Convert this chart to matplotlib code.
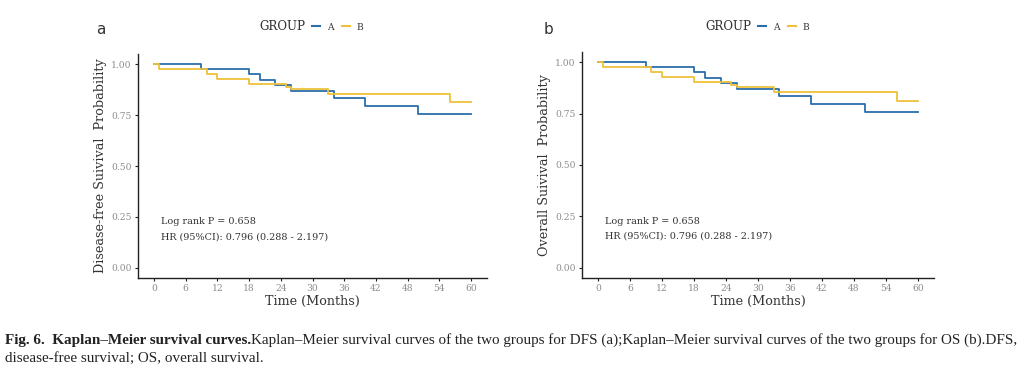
import matplotlib
matplotlib.use("Agg")
import matplotlib.pyplot as plt
from matplotlib.lines import Line2D
from matplotlib.text import Annotation

# ---- data ----
time_ticks = [0, 6, 12, 18, 24, 30, 36, 42, 48, 54, 60]
surv_ticks = [0.00, 0.25, 0.50, 0.75, 1.00]
surv_ticklabels = ["0.00", "0.25", "0.50", "0.75", "1.00"]

dfs_a_time = [0, 9, 18, 20, 23, 26, 34, 40, 50, 60]
dfs_a_surv = [1.0, 0.975, 0.951, 0.923, 0.897, 0.868, 0.835, 0.796, 0.757, 0.757]
dfs_b_time = [0, 1, 10, 12, 18, 25, 26, 33, 56, 60]
dfs_b_surv = [1.0, 0.976, 0.951, 0.927, 0.902, 0.889, 0.878, 0.854, 0.812, 0.812]

os_a_time = [0, 9, 18, 20, 23, 26, 34, 40, 50, 60]
os_a_surv = [1.0, 0.975, 0.951, 0.923, 0.897, 0.868, 0.835, 0.796, 0.757, 0.757]
os_b_time = [0, 1, 10, 12, 18, 25, 26, 33, 56, 60]
os_b_surv = [1.0, 0.976, 0.951, 0.927, 0.902, 0.889, 0.878, 0.854, 0.812, 0.812]

group_labels = ["A", "B"]
group_colors = ["#2A6EAA", "#EFC13A"]
logrank_text = "Log rank P = 0.658"
hr_text_dfs = "HR (95%CI): 0.796 (0.288 - 2.197)"
hr_text_os = "HR (95%CI): 0.796 (0.288 - 2.197)"

caption_bold = "Fig. 6.  Kaplan\u2013Meier survival curves."
caption_rest = ("Kaplan\u2013Meier survival curves of the two groups for DFS (a);"
                "Kaplan\u2013Meier survival curves of the two groups for OS (b).DFS,")
caption_line2 = "disease-free survival; OS, overall survival."

W, H = 1035, 389
fig = plt.figure(figsize=(W / 100, H / 100), dpi=100)

SERIF = "DejaVu Serif"


def fx(px):
    return px / W


def fy(py):
    return 1 - py / H


def make_panel(left, right, top, bottom, a_t, a_s, b_t, b_s, ylabel, hr_text, letter, letter_x, leg_x):
    ax = fig.add_axes([fx(left), fy(bottom), fx(right - left), (bottom - top) / H])
    ax.plot(a_t, a_s, drawstyle="steps-post", color=group_colors[0], lw=1.3)
    ax.plot(b_t, b_s, drawstyle="steps-post", color=group_colors[1], lw=1.3)
    ax.set_xlim(-3, 63)
    ax.set_ylim(-0.05, 1.05)
    ax.set_xticks(time_ticks)
    ax.set_yticks(surv_ticks)
    ax.set_yticklabels(surv_ticklabels)
    for s in ["top", "right"]:
        ax.spines[s].set_visible(False)
    for s in ["left", "bottom"]:
        ax.spines[s].set_linewidth(1.0)
        ax.spines[s].set_color("#222222")
    ax.tick_params(axis="both", length=2.5, width=0.8, color="#222222",
                   labelsize=6.6, labelcolor="#8c8c8c", pad=2)
    for lab in ax.get_xticklabels() + ax.get_yticklabels():
        lab.set_family(SERIF)
    ax.set_xlabel("Time (Months)", family=SERIF, fontsize=9.2, color="#333333", labelpad=1)
    ax.set_ylabel(ylabel, family=SERIF, fontsize=9.2, color="#333333", labelpad=3)
    ax.text(1.3, 0.226, logrank_text, family=SERIF, fontsize=6.9, color="#333333", va="center")
    ax.text(1.3, 0.152, hr_text, family=SERIF, fontsize=6.9, color="#333333", va="center")
    fig.text(fx(letter_x), fy(30), letter, family="DejaVu Sans", fontsize=11, color="#333333",
             va="center", ha="left")
    fig.text(fx(leg_x), fy(27), "GROUP", family=SERIF, fontsize=8.6, color="#333333",
             va="center", ha="left")
    handles = [Line2D([], [], color=c, lw=1.5) for c in group_colors]
    leg = ax.legend(handles, group_labels, ncol=2, loc="center left",
                    bbox_to_anchor=(fx(leg_x + 53), fy(27)), bbox_transform=fig.transFigure,
                    frameon=False, handlelength=0.9, handletextpad=0.7, columnspacing=0.9,
                    borderaxespad=0, borderpad=0,
                    prop={"family": SERIF, "size": 6.6})
    for t in leg.get_texts():
        t.set_color("#333333")
    return ax


make_panel(138, 487, 54, 278, dfs_a_time, dfs_a_surv, dfs_b_time, dfs_b_surv,
           "Disease-free Suivival  Probability", hr_text_dfs, "a", 96, 259)
make_panel(582, 934, 52, 278, os_a_time, os_a_surv, os_b_time, os_b_surv,
           "Overall Suivival  Probability", hr_text_os, "b", 544, 705)

# caption
CAP = "Liberation Serif"
CAP_SIZE = 10.9
cap1 = fig.text(fx(5), fy(347), caption_bold, family=CAP,
                fontsize=CAP_SIZE, fontweight="bold", color="#222222", va="bottom", ha="left")
fig.add_artist(Annotation(caption_rest, xy=(1, 0), xycoords=cap1, va="bottom", ha="left",
                          family=CAP, fontsize=CAP_SIZE, color="#222222"))
fig.text(fx(5), fy(365), caption_line2, family=CAP,
         fontsize=CAP_SIZE, color="#222222", va="bottom", ha="left")

fig.savefig("out.png", dpi=100)
